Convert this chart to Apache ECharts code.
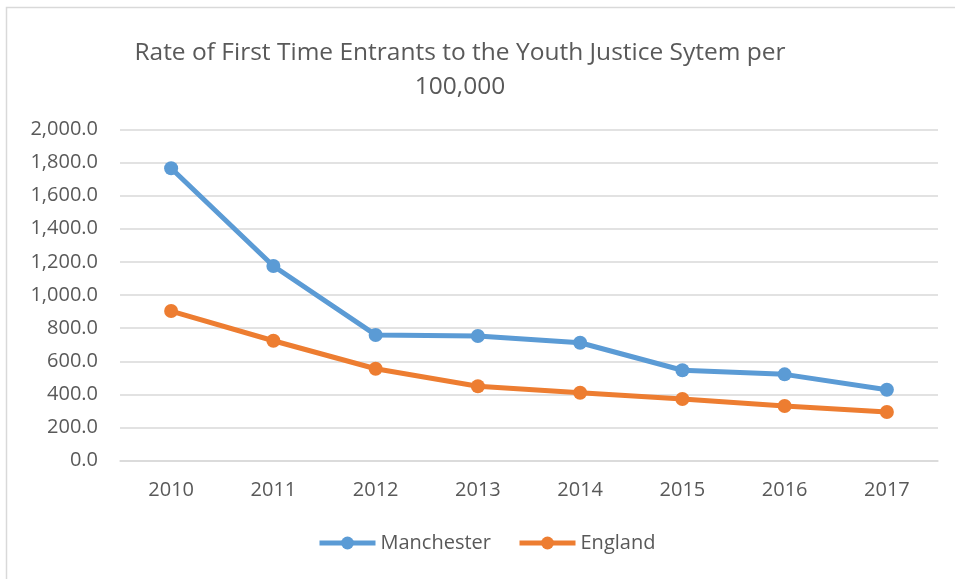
<!DOCTYPE html>
<html>
<head>
<meta charset="utf-8">
<script src="https://cdn.jsdelivr.net/npm/echarts@6/dist/echarts.min.js"></script>
<style>
  html, body { margin: 0; padding: 0; background: #fff; }
  #chart { width: 955px; height: 579px; }
</style>
</head>
<body>
<div id="chart"></div>
<script>
// 数据
const years = ['2010', '2011', '2012', '2013', '2014', '2015', '2016', '2017'];
const manchester = [1765, 1175, 759, 753, 712, 546, 521, 428];
const england = [903, 724, 555, 449, 410, 372, 330, 294];
const yTicks = [0, 200, 400, 600, 800, 1000, 1200, 1400, 1600, 1800, 2000];

function drawLineChart() {
    var dom = document.getElementById('chart');
    var myChart = echarts.init(dom, null, { renderer: 'canvas' });
    var font = 'Open Sans';
    var option = {
        animation: false,
        backgroundColor: '#fff',
        title: {
            text: 'Rate of First Time Entrants to the Youth Justice Sytem per\n100,000',
            left: 455,
            textAlign: 'center',
            top: 31,
            textStyle: {
                color: '#595959',
                fontFamily: font,
                fontSize: 24.5,
                fontWeight: 'normal',
                lineHeight: 34
            }
        },
        graphic: [{
            type: 'rect',
            shape: { x: 6.5, y: 7.5, width: 1000, height: 1000 },
            style: { fill: 'none', stroke: '#d9d9d9', lineWidth: 1.5 }
        }],
        legend: {
            bottom: 21,
            left: 312,
            itemWidth: 56,
            itemHeight: 16,
            itemGap: 26,
            lineStyle: { width: 5 },
            textStyle: { color: '#595959', fontFamily: font, fontSize: 20 },
            data: ['Manchester', 'England']
        },
        grid: { left: 120, right: 17, top: 129.3, bottom: 118.3 },
        xAxis: {
            type: 'category',
            data: years,
            boundaryGap: true,
            axisLine: { lineStyle: { color: '#d9d9d9', width: 1.5 } },
            axisTick: { show: false },
            axisLabel: { color: '#595959', fontFamily: font, fontSize: 20, margin: 20 }
        },
        yAxis: {
            type: 'value',
            min: yTicks[0],
            max: yTicks[yTicks.length - 1],
            interval: 200,
            axisLine: { show: false },
            axisTick: { show: false },
            splitLine: { lineStyle: { color: '#d9d9d9', width: 1.5 } },
            axisLabel: {
                color: '#595959', fontFamily: font, fontSize: 20, margin: 22,
                formatter: function (v) {
                    return v.toLocaleString('en-US', { minimumFractionDigits: 1, maximumFractionDigits: 1 });
                }
            }
        },
        series: [
            {
                name: 'Manchester',
                type: 'line',
                data: manchester,
                symbol: 'circle',
                symbolSize: 14,
                itemStyle: { color: '#5b9bd5' },
                lineStyle: { color: '#5b9bd5', width: 5 }
            },
            {
                name: 'England',
                type: 'line',
                data: england,
                symbol: 'circle',
                symbolSize: 14,
                itemStyle: { color: '#ed7d31' },
                lineStyle: { color: '#ed7d31', width: 5 }
            }
        ]
    };
    myChart.setOption(option);
    window.addEventListener('resize', myChart.resize);
}

drawLineChart();
</script>
</body>
</html>
